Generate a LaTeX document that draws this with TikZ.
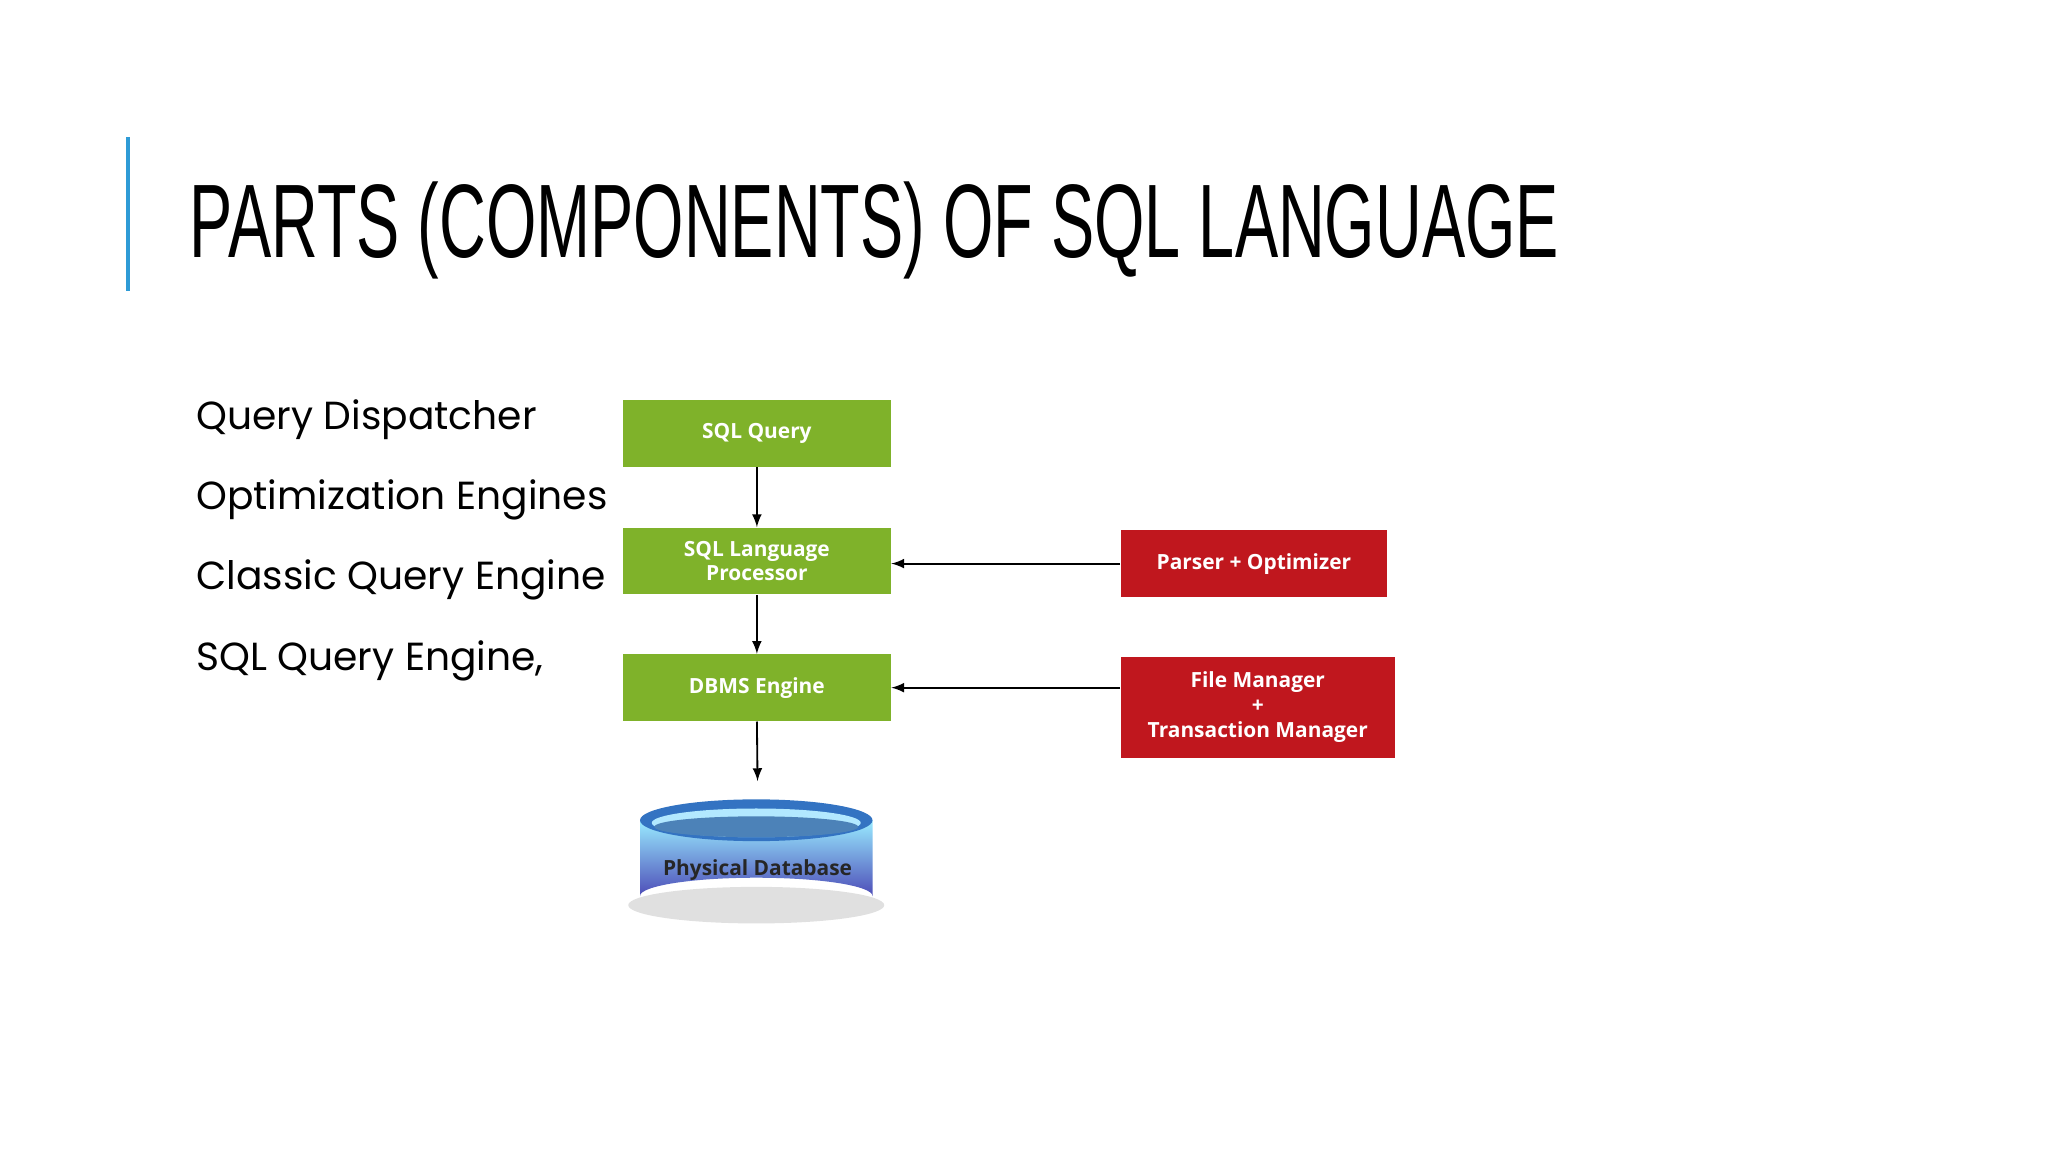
\documentclass[tikz,border=0pt]{standalone}
\usepackage{fontspec}
\setmainfont{Poppins}
\newfontfamily\titlefont[FakeStretch=0.62]{Liberation Sans}
\newfontfamily\boxfont{Open Sans}
\definecolor{grn}{HTML}{7FB22A}
\definecolor{rd}{HTML}{C0171E}
\definecolor{accent}{HTML}{2E9BD6}
\tikzset{
 gbox/.style={fill=grn,minimum width=102.5pt,minimum height=25.5pt,text=white,font=\boxfont\bfseries\fontsize{8}{9}\selectfont,align=center,inner sep=0pt},
 rbox/.style={fill=rd,text=white,font=\boxfont\bfseries\fontsize{8}{9.5}\selectfont,align=center,inner sep=0pt},
 arr/.style={-latex,line width=0.7pt},
 item/.style={anchor=west,font=\fontsize{15}{18}\selectfont,inner sep=0pt}
}
\begin{document}
\begin{tikzpicture}[x=0.5pt,y=-0.5pt]
\useasboundingbox (0,0) rectangle (1568,882);
\draw[accent,line width=1.2pt] (98,105) -- (98,223);
\node[anchor=base west,inner sep=0pt,font=\titlefont\fontsize{40}{44}\selectfont] (title) at (145,197) {PARTS (COMPONENTS) OF SQL LANGUAGE};
\node[item] (i1) at (150,321) {Query Dispatcher};
\node[item] (i2) at (150,383) {Optimization Engines};
\node[item] (i3) at (150,444) {Classic Query Engine};
\node[item] (i4) at (150,506) {SQL Query Engine,};
\node[gbox] (q) at (579.5,332) {SQL Query};
\node[gbox] (p) at (579.5,429.5) {SQL Language\\Processor};
\node[gbox] (d) at (579.5,526.5) {DBMS Engine};
\node[rbox,minimum width=102pt,minimum height=25.5pt] (po) at (960,431.5) {Parser + Optimizer};
\node[rbox,minimum width=105pt,minimum height=38.5pt] (fm) at (963,541.5) {File Manager\\+\\Transaction Manager};
% cylinder
\fill[black!12] (579,693) ellipse (98 and 14);
\shade[top color=blue!20!cyan!40!white,bottom color=blue!60!black!70,shading angle=0]
 (490,628) -- (490,686) arc[start angle=180,end angle=360,x radius=89,y radius=14] -- (668,628) -- cycle;
\fill[blue!55!cyan!70!black!80] (579,628) ellipse (89 and 16);
\fill[blue!30!cyan!30!white] (579,630) ellipse (80 and 11);
\fill[blue!50!cyan!60!black!70] (579,633) ellipse (78 and 8);
\node[font=\boxfont\bfseries\fontsize{8}{9}\selectfont,text=black!85] (db) at (580,666) {Physical Database};
\coordinate (dbtop) at (580,598);
\draw[arr] (q) -- (p);
\draw[arr] (p) -- (d);
\draw[arr] (d.south) -- (dbtop);
\draw[arr] (po.west) -- (po.west -| p.east);
\draw[arr] (fm.west |- d.east) -- (d.east);
\end{tikzpicture}
\end{document}
